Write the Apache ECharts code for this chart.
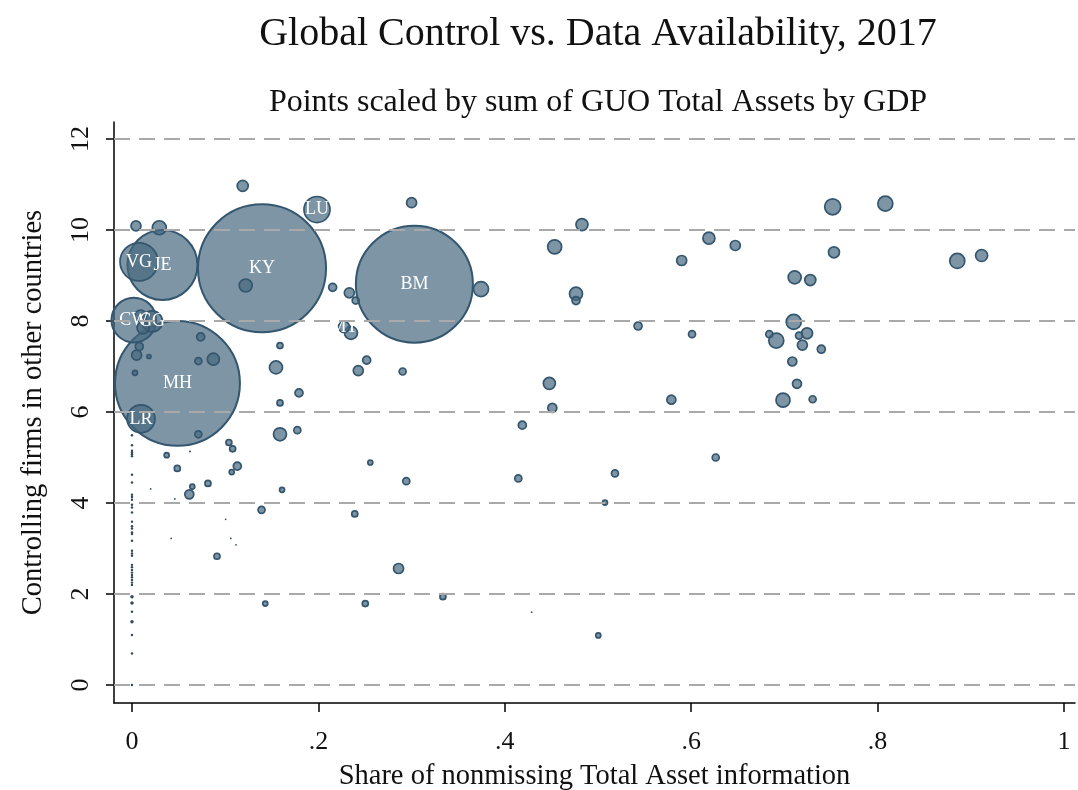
<!DOCTYPE html>
<html><head><meta charset="utf-8">
<script src="https://cdn.jsdelivr.net/npm/echarts@6/dist/echarts.min.js"></script>
<style>html,body{margin:0;padding:0;background:#fff}#c{width:1078px;height:790px}</style>
</head><body><div id="c"></div>
<script>
// Country code labels of the first points (the rest are unlabeled)
const labels = ['KY','MH','BM','JE','CW','VG','LR','LU','GG','MT'];
// Share of nonmissing Total Asset information
const shares = [
  0.1395,0.0488,0.303,0.0327,0.002,0.0075,0.0097,0.1985,0.0215,0.2275,
  0.235,0.1188,0.0043,0.0293,0.300,0.122,0.2153,0.2332,0.240,0.3745,
  0.0093,0.0118,0.0078,0.005,0.0182,0.0032,0.0737,0.0712,0.0873,0.1588,
  0.1545,0.2518,0.2428,0.2904,0.1792,0.1588,0.0712,0.1588,0.1774,0.104,
  0.108,0.0372,0.0622,0.0486,0.113,0.107,0.161,0.0815,0.0647,0.0615,
  0.020,0.046,0.2557,0.2943,0.139,0.239,0.1005,0.042,0.106,0.1116,
  0.0912,0.286,0.143,0.2503,0.3336,0.4828,0.4535,0.4764,0.4764,0.543,
  0.4478,0.451,0.4188,0.4145,0.5182,0.5075,0.4288,0.5003,0.619,0.6473,
  0.5898,0.6009,0.5787,0.6263,0.7518,0.8083,0.7532,0.711,0.7278,0.8855,
  0.9116,0.710,0.6838,0.6913,0.7157,0.7243,0.7193,0.7396,0.7085,0.7135,
  0.6985,0.7303,0,0,0,0,0,0,0,0,
  0,0,0,0,0,0,0,0,0,0,
  0,0,0,0,0,0,0,0,0,0,
  0,0,0,0,0,0,0,0,0,0,
  0
];
// Controlling firms in other countries
const controls = [
  9.16,6.63,8.81,9.23,8.02,9.30,5.85,10.45,7.99,7.87,
  7.74,10.97,10.09,10.05,10.60,8.78,8.74,8.62,8.45,8.70,
  8.11,7.85,7.44,7.25,7.22,6.86,7.65,7.12,7.16,7.46,
  6.98,7.14,6.91,6.89,6.42,6.20,5.51,5.51,5.60,5.33,
  5.19,5.05,5.13,4.76,4.81,4.68,4.29,4.43,4.36,4.19,
  4.31,4.09,4.89,4.48,3.85,3.76,3.64,3.22,3.22,3.08,
  2.83,2.56,1.79,1.79,1.94,10.12,9.63,8.60,8.45,7.89,
  6.63,6.09,5.71,4.54,4.65,4.01,1.60,1.09,9.82,9.66,
  9.33,7.71,6.27,5.00,10.51,10.58,9.51,8.96,8.90,9.32,
  9.44,7.98,7.71,7.57,7.68,7.73,7.47,7.38,7.11,6.62,
  6.26,6.28,5.49,5.27,5.15,5.11,5.07,5.03,4.62,4.45,
  4.18,4.13,4.07,3.96,3.90,3.79,3.59,3.49,3.44,3.35,
  3.32,3.17,2.95,2.89,2.84,2.64,2.59,2.53,2.47,2.42,
  2.37,2.31,2.25,2.20,1.94,1.80,1.61,1.39,1.10,0.69,
  0.0
];
// Sum of GUO Total Assets by GDP (relative weight)
const weights = [
  164,156,137,49,20,14.4,7.8,6.8,4.4,1.21,
  1.69,1.21,1.00,1.96,1.00,1.69,0.64,1.00,0.49,2.25,
  1.44,1.44,0.64,1.00,0.16,0.25,0.64,0.49,1.44,0.36,
  1.69,0.64,1.00,0.49,0.64,0.36,0.49,1.69,0.49,0.36,
  0.36,0.25,0.04,0.36,0.64,0.25,0.25,0.36,0.25,0.81,
  0.03,0.03,0.25,0.49,0.49,0.36,0.03,0.03,0.03,0.03,
  0.36,1.00,0.25,0.36,0.36,1.44,1.96,1.69,0.64,0.64,
  1.44,0.81,0.64,0.49,0.49,0.25,0.03,0.25,1.44,1.00,
  1.00,0.49,0.81,0.49,2.56,2.25,1.21,1.69,1.21,2.25,
  1.44,2.25,0.49,2.25,0.49,1.21,1.00,0.64,0.81,0.81,
  1.96,0.49,0.06,0.06,0.06,0.06,0.06,0.06,0.06,0.06,
  0.06,0.06,0.06,0.06,0.06,0.06,0.06,0.06,0.06,0.06,
  0.06,0.06,0.06,0.06,0.06,0.06,0.06,0.06,0.06,0.06,
  0.06,0.06,0.06,0.06,0.12,0.12,0.06,0.12,0.06,0.06,
  0.06
];
const xTicks = [0, 0.2, 0.4, 0.6, 0.8, 1];
const yTicks = [0, 2, 4, 6, 8, 10, 12];

const SERIF = '"Liberation Serif","DejaVu Serif",serif';
const FILL = 'rgba(70,104,126,0.70)';
const EDGE = '#34566f';
const SCALE = 10; // diameter px = SCALE * sqrt(weight)

const n = Math.min(shares.length, controls.length, weights.length);
const idx = [];
for (let i = 0; i < n; i++) idx.push(i);
idx.sort((a, b) => weights[b] - weights[a]);
const points = idx.map(i => {
  const d = SCALE * Math.sqrt(weights[i]);
  const tiny = d < 4;
  const lab = labels[i] || '';
  return {
    name: lab,
    value: [shares[i], controls[i], weights[i]],
    itemStyle: tiny
      ? { color: '#2f4a60', borderWidth: 0, opacity: 1 }
      : { color: FILL, borderColor: EDGE, borderWidth: weights[i] >= 20 ? 2 : 1.7, opacity: 1 },
    label: { show: lab !== '' }
  };
});

const chart = echarts.init(document.getElementById('c'), null, { renderer: 'canvas' });
chart.setOption({
  animation: false,
  backgroundColor: '#fff',
  graphic: [
    { type: 'text', x: 598, y: 34, style: { text: 'Global Control vs. Data Availability, 2017', font: '40px ' + SERIF, fill: '#111', textAlign: 'center', textVerticalAlign: 'middle' } },
    { type: 'text', x: 598, y: 103, style: { text: 'Points scaled by sum of GUO Total Assets by GDP', font: '32px ' + SERIF, fill: '#111', textAlign: 'center', textVerticalAlign: 'middle' } }
  ],
  grid: { left: 114, right: 3, top: 122, bottom: 87, containLabel: false, outerBoundsMode: 'none' },
  xAxis: {
    type: 'value', min: -0.0193, max: 1.0118,
    axisLine: { show: true, onZero: false, lineStyle: { color: '#000', width: 1.5 } },
    axisTick: { show: true, customValues: xTicks, length: 9, lineStyle: { color: '#000', width: 1.5 } },
    axisLabel: {
      customValues: xTicks, margin: 26, color: '#111', fontSize: 26, fontFamily: SERIF,
      formatter: v => (v === 0 ? '0' : v === 1 ? '1' : String(+v.toFixed(1)).replace(/^0/, ''))
    },
    splitLine: { show: false },
    name: 'Share of nonmissing Total Asset information', nameLocation: 'middle', nameGap: 59,
    nameTextStyle: { color: '#111', fontSize: 28.5, fontFamily: SERIF }
  },
  yAxis: {
    type: 'value', min: -0.396, max: 12.374,
    axisLine: { show: true, onZero: false, lineStyle: { color: '#000', width: 1.5 } },
    axisTick: { show: true, customValues: yTicks, length: 8, lineStyle: { color: '#000', width: 1.5 } },
    axisLabel: { customValues: yTicks, rotate: 90, margin: 20, color: '#111', fontSize: 26, fontFamily: SERIF },
    splitLine: { show: false },
    name: 'Controlling firms in other countries', nameLocation: 'middle', nameGap: 66, nameRotate: 90,
    nameTextStyle: { color: '#111', fontSize: 28.5, fontFamily: SERIF }
  },
  series: [
    {
      type: 'scatter', z: 1, data: [], silent: true,
      markLine: {
        silent: true, symbol: ['none', 'none'], animation: false,
        label: { show: false },
        lineStyle: { color: '#a9a9a9', width: 2, type: [16, 9] },
        data: yTicks.map(v => ({ yAxis: v }))
      }
    },
    {
      type: 'scatter', z: 2, silent: true,
      symbolSize: v => SCALE * Math.sqrt(v[2]),
      data: points,
      label: { position: 'inside', formatter: '{b}', color: '#fff', fontSize: 18, fontFamily: SERIF },
      emphasis: { disabled: true }
    }
  ]
});
</script>
</body></html>
